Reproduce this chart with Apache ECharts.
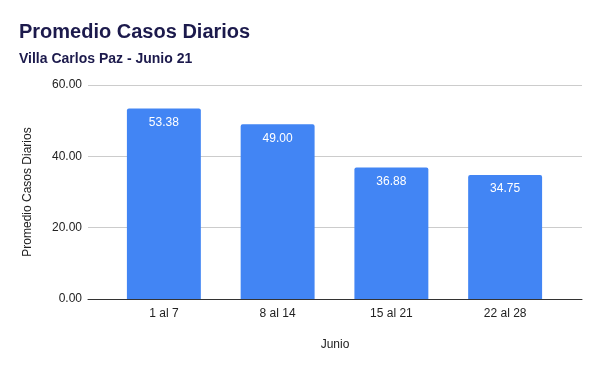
<!DOCTYPE html>
<html><head><meta charset="utf-8">
<script src="https://cdn.jsdelivr.net/npm/echarts@6/dist/echarts.min.js"></script>
<style>html,body{margin:0;padding:0;background:#fff}#c{width:600px;height:371px}</style>
</head><body><div id="c"></div>
<script>
var categories = ["1 al 7", "8 al 14", "15 al 21", "22 al 28"];
var values = [53.38, 49.00, 36.88, 34.75];
var yTicks = [0, 20, 40, 60];

var FONT = 'Arial, "Liberation Sans", sans-serif';
var chart = echarts.init(document.getElementById('c'));
chart.setOption({
  animation: false,
  backgroundColor: '#ffffff',
  title: [{
    text: 'Promedio Casos Diarios',
    left: 14, top: 17,
    textStyle: {fontFamily: FONT, fontSize: 20, fontWeight: 'bold', color: '#1c1a4c'}
  }, {
    text: 'Villa Carlos Paz - Junio 21',
    left: 14, top: 47,
    textStyle: {fontFamily: FONT, fontSize: 14, fontWeight: 'bold', color: '#1c1a4c'}
  }],
  grid: [
    {left: 88, right: 18, top: 85, bottom: 72},
    {left: 107, right: 38, top: 85, bottom: 72}
  ],
  xAxis: [{
    gridIndex: 0, type: 'value', min: 0, max: 1, show: true,
    axisLine: {show: true, onZero: false, lineStyle: {color: '#333', width: 1}},
    axisTick: {show: false}, axisLabel: {show: false}, splitLine: {show: false},
    name: 'Junio', nameLocation: 'middle', nameGap: 40,
    nameTextStyle: {fontFamily: FONT, fontSize: 12, color: '#222'}
  }, {
    gridIndex: 1, type: 'category', data: categories,
    axisLine: {show: false}, axisTick: {show: false},
    axisLabel: {fontFamily: FONT, fontSize: 12, color: '#222', margin: 9}
  }],
  yAxis: [{
    gridIndex: 0, type: 'value',
    min: yTicks[0], max: yTicks[yTicks.length - 1], interval: 20,
    name: 'Promedio Casos Diarios', nameLocation: 'middle', nameGap: 54,
    nameTextStyle: {fontFamily: FONT, fontSize: 12, color: '#222'},
    axisLine: {show: false}, axisTick: {show: false},
    splitLine: {lineStyle: {color: '#cccccc', width: 1}},
    axisLabel: {fontFamily: FONT, fontSize: 12, color: '#222', margin: 6,
      formatter: function (v) { return v.toFixed(2); }}
  }, {
    gridIndex: 1, type: 'value',
    min: yTicks[0], max: yTicks[yTicks.length - 1], interval: 20,
    show: false, splitLine: {show: false}
  }],
  series: [{
    type: 'bar', xAxisIndex: 1, yAxisIndex: 1,
    data: values,
    barWidth: '65%',
    z: 1,
    itemStyle: {color: '#4285f4', borderRadius: [2, 2, 0, 0]},
    label: {
      show: true, position: 'insideTop', distance: 8,
      color: '#ffffff', fontFamily: FONT, fontSize: 12,
      formatter: function (p) { return p.value.toFixed(2); }
    }
  }]
});
</script></body></html>
